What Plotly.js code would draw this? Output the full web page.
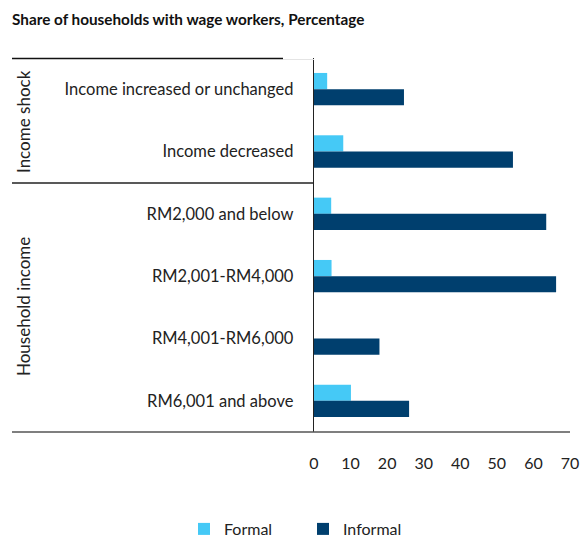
<!DOCTYPE html>
<html>
<head>
<meta charset="utf-8">
<script src="https://cdn.plot.ly/plotly-3.0.1.min.js"></script>
<style>html,body{margin:0;padding:0;background:#fff;}#chart{width:580px;height:538px;}</style>
</head>
<body>
<div id="chart"></div>
<script>
const categories = [
  "Income increased or unchanged",
  "Income decreased",
  "RM2,000 and below",
  "RM2,001-RM4,000",
  "RM4,001-RM6,000",
  "RM6,001 and above"
];
const formalValues = [3.6, 8.0, 4.7, 4.8, 0, 10.1];
const informalValues = [24.6, 54.4, 63.5, 66.2, 17.9, 26.0];
const xTickValues = [0, 10, 20, 30, 40, 50, 60, 70];
const groupLabels = ["Income shock", "Household income"];
const seriesNames = ["Formal", "Informal"];

const FONT = "Lato, 'Open Sans', sans-serif";
const W = 256; // plot width px
function px(x) { return (x - 314) / W; } // pixel -> paper x
const H = 374;
function py(y) { return 1 - (y - 58) / H; } // pixel -> paper y

const data = [
  {type: "bar", orientation: "h", name: seriesNames[0], y: categories, x: formalValues,
   marker: {color: "#45C9F6"}, hoverinfo: "x+y"},
  {type: "bar", orientation: "h", name: seriesNames[1], y: categories, x: informalValues,
   marker: {color: "#003F6E"}, hoverinfo: "x+y"}
];

const layout = {
  width: 580, height: 538,
  margin: {l: 314, r: 10, t: 58, b: 106, autoexpand: false},
  paper_bgcolor: "#fff", plot_bgcolor: "#fff",
  font: {family: FONT, color: "#222", size: 16},
  title: {text: "<b>Share of households with wage workers, Percentage</b>",
          x: 12/580, xanchor: "left", xref: "container", y: 1 - 20/538, yanchor: "middle", yref: "container",
          font: {family: FONT, size: 15.3, color: "#111"}},
  barmode: "group", bargap: 0.48, bargroupgap: 0,
  showlegend: true,
  legend: {orientation: "h", xref: "container", x: 303/580, xanchor: "center",
           yref: "container", y: 1 - 529/538, yanchor: "middle",
           traceorder: "normal", font: {size: 16, color: "#222"}, itemwidth: 30,
           entrywidth: 74, entrywidthmode: "pixels"},
  xaxis: {range: [0, 70], tickvals: xTickValues, showgrid: false, zeroline: false, automargin: false,
          showline: false, ticks: "", ticklabelstandoff: 20, tickfont: {size: 16, color: "#222"},
          fixedrange: true},
  yaxis: {type: "category", autorange: "reversed", showgrid: false, zeroline: false, automargin: false,
          showline: true, linecolor: "#222", linewidth: 1.3, ticks: "", ticklabelstandoff: 16,
          tickfont: {size: 16.5, color: "#222"}, fixedrange: true},
  shapes: [
    {type: "line", xref: "paper", yref: "paper", x0: px(12), x1: px(283), y0: py(58.5), y1: py(58.5),
     line: {color: "#111", width: 1.5}},
    {type: "line", xref: "paper", yref: "paper", x0: px(283), x1: 0, y0: py(59.5), y1: py(59.5),
     line: {color: "#e4e4e4", width: 1}},
    {type: "line", xref: "paper", yref: "paper", x0: px(12), x1: 0, y0: py(183), y1: py(183),
     line: {color: "#222", width: 1.3}},
    {type: "line", xref: "paper", yref: "paper", x0: px(12), x1: px(570), y0: py(432), y1: py(432),
     line: {color: "#555", width: 1.5}}
  ],
  annotations: [
    {text: groupLabels[0], xref: "paper", yref: "paper", x: px(23), y: py(122), textangle: -90,
     showarrow: false, xanchor: "center", yanchor: "middle", font: {size: 17, color: "#222"}},
    {text: groupLabels[1], xref: "paper", yref: "paper", x: px(23), y: py(307), textangle: -90,
     showarrow: false, xanchor: "center", yanchor: "middle", font: {size: 17, color: "#222"}}
  ]
};

Plotly.newPlot("chart", data, layout, {displayModeBar: false, staticPlot: true});
</script>
</body>
</html>
